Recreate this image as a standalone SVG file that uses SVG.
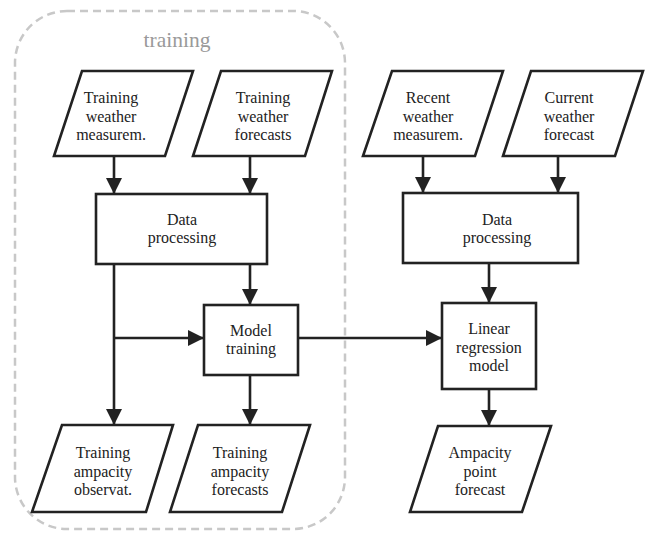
<svg xmlns="http://www.w3.org/2000/svg" width="651" height="534" viewBox="0 0 651 534" font-family="Liberation Serif, Times New Roman, serif">
<style>
.box{fill:#fff;stroke:#222;stroke-width:2.6}
.t{font-size:16px;fill:#222;text-anchor:middle}
.c{fill:none;stroke:#222;stroke-width:2.6}
</style>
<defs>
<marker id="ah" markerUnits="userSpaceOnUse" markerWidth="16" markerHeight="16" viewBox="0 0 16 16" refX="16" refY="8" orient="auto">
<path d="M0,0 L16,8 L0,16 Z" fill="#222"/>
</marker>
</defs>
<rect id="training-group" x="15" y="11" width="330" height="518" rx="52" ry="52" fill="none" stroke="#c8c8c8" stroke-width="2.5" stroke-dasharray="8 5"/>
<text x="177" y="47" font-size="21.5" fill="#9a9a9a" text-anchor="middle">training</text>

<g id="connectors">
<path class="c" d="M114,156 V194" marker-end="url(#ah)"/>
<path class="c" d="M250,156 V194" marker-end="url(#ah)"/>
<path class="c" d="M114,264 V425" marker-end="url(#ah)"/>
<path class="c" d="M250,264 V305" marker-end="url(#ah)"/>
<path class="c" d="M114,338 H204" marker-end="url(#ah)"/>
<path class="c" d="M250,375 V425" marker-end="url(#ah)"/>
<path class="c" d="M298,338 H442" marker-end="url(#ah)"/>
<path class="c" d="M423,156 V193" marker-end="url(#ah)"/>
<path class="c" d="M558,156 V193" marker-end="url(#ah)"/>
<path class="c" d="M489,263 V303" marker-end="url(#ah)"/>
<path class="c" d="M489,389 V426" marker-end="url(#ah)"/>
</g>

<g id="n-train-meas">
<polygon class="box" points="82,71 193,71 165,156 54,156"/>
<text class="t" x="111" y="103">Training</text>
<text class="t" x="111" y="121.5">weather</text>
<text class="t" x="111" y="140">measurem.</text>
</g>
<g id="n-train-fc">
<polygon class="box" points="221,71 332,71 305,156 193,156"/>
<text class="t" x="263" y="103">Training</text>
<text class="t" x="263" y="121.5">weather</text>
<text class="t" x="263" y="140">forecasts</text>
</g>
<g id="n-dp1">
<rect class="box" x="96" y="194" width="171" height="70"/>
<text class="t" x="182" y="225">Data</text>
<text class="t" x="182" y="243">processing</text>
</g>
<g id="n-model-training">
<rect class="box" x="204" y="305" width="94" height="70"/>
<text class="t" x="251" y="336">Model</text>
<text class="t" x="251" y="354">training</text>
</g>
<g id="n-amp-obs">
<polygon class="box" points="62,425 173,425 146,512 32,512"/>
<text class="t" x="103" y="458">Training</text>
<text class="t" x="103" y="476.5">ampacity</text>
<text class="t" x="103" y="495">observat.</text>
</g>
<g id="n-amp-fc">
<polygon class="box" points="198,425 310,425 282,512 170,512"/>
<text class="t" x="240" y="458">Training</text>
<text class="t" x="240" y="476.5">ampacity</text>
<text class="t" x="240" y="495">forecasts</text>
</g>
<g id="n-recent-meas">
<polygon class="box" points="392,71 503,71 475,156 363,156"/>
<text class="t" x="428" y="103">Recent</text>
<text class="t" x="428" y="121.5">weather</text>
<text class="t" x="428" y="140">measurem.</text>
</g>
<g id="n-current-fc">
<polygon class="box" points="531,71 643,71 615,156 503,156"/>
<text class="t" x="569" y="103">Current</text>
<text class="t" x="569" y="121.5">weather</text>
<text class="t" x="569" y="140">forecast</text>
</g>
<g id="n-dp2">
<rect class="box" x="403" y="193" width="175" height="70"/>
<text class="t" x="497" y="225">Data</text>
<text class="t" x="497" y="243">processing</text>
</g>
<g id="n-linreg">
<rect class="box" x="442" y="303" width="94" height="86"/>
<text class="t" x="489" y="334">Linear</text>
<text class="t" x="489" y="352.5">regression</text>
<text class="t" x="489" y="371">model</text>
</g>
<g id="n-point-fc">
<polygon class="box" points="438,426 551,426 522,512 410,512"/>
<text class="t" x="480" y="458">Ampacity</text>
<text class="t" x="480" y="476.5">point</text>
<text class="t" x="480" y="495">forecast</text>
</g>
</svg>
